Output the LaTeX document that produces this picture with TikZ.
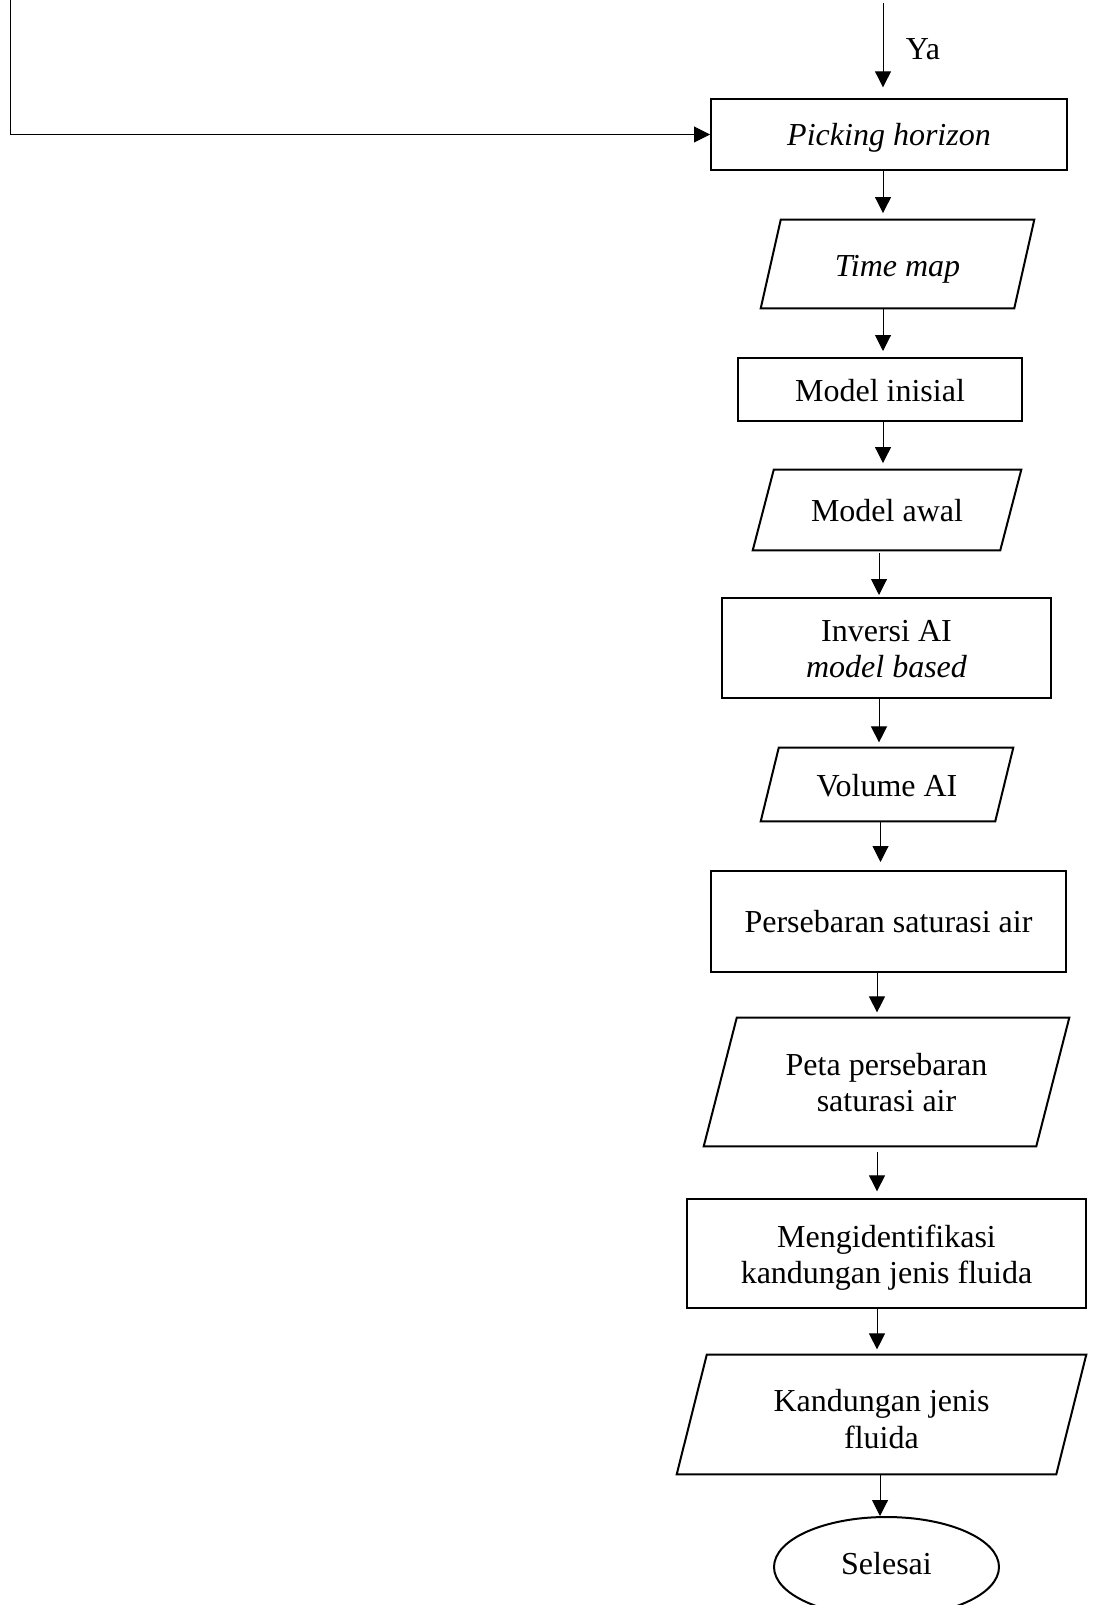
\documentclass[tikz,border=0pt]{standalone}
\usepackage{fontspec}
\setmainfont{Liberation Serif}
\usetikzlibrary{arrows.meta,shapes.geometric}
\newcommand{\ctext}[2]{\raisebox{-#1}[\height][\depth]{\begin{tabular}{@{}c@{}}#2\end{tabular}}}
\begin{document}
\begin{tikzpicture}[x=0.75pt,y=-0.75pt,
  every node/.style={font=\fontsize{24}{27.5}\selectfont},
  procbox/.style={draw, line width=1.5pt, inner sep=0pt, align=center},
  iobox/.style={inner sep=0pt, align=center},
  ioline/.style={line width=1.5pt, line join=miter},
  arr/.style={line width=0.75pt, -{Triangle[length=12pt,width=12pt]}},
  termbox/.style={draw, ellipse, line width=1.5pt, inner sep=0pt}]
\useasboundingbox (0,0) rectangle (1096,1605);
\clip (0,0) rectangle (1096,1605);

% nodes
\node[procbox, minimum width=267pt, minimum height=53.25pt] (pick) at (889,134.5) {\ctext{3pt}{\itshape Picking horizon}};
\node[iobox, minimum width=204.75pt, minimum height=66pt] (time) at (897.5,264) {\ctext{3.6pt}{\itshape Time map}};
\node[procbox, minimum width=213pt, minimum height=47.25pt] (mi) at (880,389.5) {\ctext{3.2pt}{Model inisial}};
\node[iobox, minimum width=201pt, minimum height=60pt] (ma) at (887,510) {\ctext{3.4pt}{Model awal}};
\node[procbox, minimum width=246.75pt, minimum height=75pt] (inv) at (886.5,648) {\ctext{3pt}{Inversi AI\\\itshape model based}};
\node[iobox, minimum width=189pt, minimum height=54.75pt] (vol) at (887,784.5) {\ctext{3.2pt}{Volume AI}};
\node[procbox, minimum width=266.25pt, minimum height=75.75pt] (pers) at (888.5,921.5) {\ctext{3pt}{Persebaran saturasi air}};
\node[iobox, minimum width=273.75pt, minimum height=96pt] (peta) at (886.5,1082) {\ctext{3pt}{Peta persebaran\\saturasi air}};
\node[procbox, minimum width=299.25pt, minimum height=81.75pt] (meng) at (886.5,1253.5) {\ctext{3.5pt}{Mengidentifikasi\\kandungan jenis fluida}};
\node[iobox, minimum width=306.75pt, minimum height=89.25pt] (kand) at (881.5,1414.5) {\ctext{6pt}{Kandungan jenis\\fluida}};
\node[termbox, minimum width=168.75pt, minimum height=75pt] (sel) at (886.5,1567) {\ctext{0pt}{Selesai}};
\node (ya) at (923,49) {Ya};

% parallelogram outlines
\draw[ioline] ([xshift=15pt]time.north west) -- (time.north east) -- ([xshift=-15pt]time.south east) -- (time.south west) -- cycle;
\draw[ioline] ([xshift=15.75pt]ma.north west) -- (ma.north east) -- ([xshift=-15.75pt]ma.south east) -- (ma.south west) -- cycle;
\draw[ioline] ([xshift=13.5pt]vol.north west) -- (vol.north east) -- ([xshift=-13.5pt]vol.south east) -- (vol.south west) -- cycle;
\draw[ioline] ([xshift=24.75pt]peta.north west) -- (peta.north east) -- ([xshift=-24.75pt]peta.south east) -- (peta.south west) -- cycle;
\draw[ioline] ([xshift=22.5pt]kand.north west) -- (kand.north east) -- ([xshift=-22.5pt]kand.south east) -- (kand.south west) -- cycle;

% connector columns
\coordinate (c1) at (883,0);
\coordinate (c2) at (879,0);
\coordinate (c3) at (880.5,0);
\coordinate (c4) at (877,0);
\coordinate (c5) at (880,0);
\coordinate (topstart) at (883,3);
\coordinate (fbtop) at (10.5,0);

% connectors
\draw[arr, shorten >=8pt] (topstart) -- (pick.north -| topstart);
\draw[arr, shorten >=5pt] (pick.south -| c1) -- (time.north -| c1);
\draw[arr, shorten >=4.5pt] (time.south -| c1) -- (mi.north -| c1);
\draw[arr, shorten >=5pt] (mi.south -| c1) -- (ma.north -| c1);
\draw[arr, shorten <=2pt, shorten >=1.5pt] (ma.south -| c2) -- (inv.north -| c2);
\draw[arr, shorten >=4pt] (inv.south -| c2) -- (vol.north -| c2);
\draw[arr, shorten >=6pt] (vol.south -| c3) -- (pers.north -| c3);
\draw[arr, shorten >=4pt] (pers.south -| c4) -- (peta.north -| c4);
\draw[arr, shorten <=4pt, shorten >=5pt] (peta.south -| c4) -- (meng.north -| c4);
\draw[arr, shorten >=4pt] (meng.south -| c4) -- (kand.north -| c4);
\draw[arr] (kand.south -| c5) -- (sel.north -| c5);
\draw[arr] (fbtop) |- (pick.west);
\end{tikzpicture}
\end{document}
